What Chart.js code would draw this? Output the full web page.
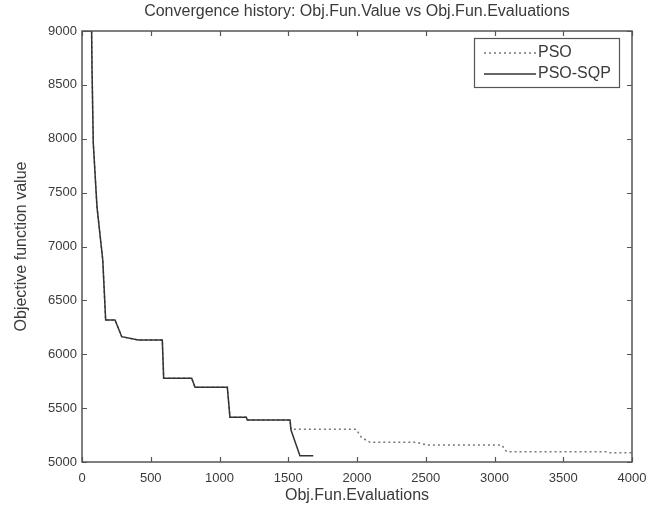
<!DOCTYPE html>
<html>
<head>
<meta charset="utf-8">
<script src="https://cdn.jsdelivr.net/npm/chart.js@4/dist/chart.umd.min.js"></script>
<style>
  html, body { margin: 0; padding: 0; background: #fff; }
  #wrap { width: 666px; height: 513px; }
</style>
</head>
<body>
<div id="wrap"><canvas id="c" width="666" height="513"></canvas></div>
<script>
// ---- data ----
const chartTitle = 'Convergence history: Obj.Fun.Value vs Obj.Fun.Evaluations';
const xTitle = 'Obj.Fun.Evaluations';
const yTitle = 'Objective function value';
const seriesNames = ['PSO', 'PSO-SQP'];

const psoX = [0, 70, 73, 82, 109, 151, 172, 240, 260, 289, 409, 584, 594, 798, 822, 1057, 1076, 1195, 1202, 1513, 1520, 1993, 2034, 2095, 2434, 2507, 3052, 3089, 3816, 3840, 4000];
const psoY = [9000, 9000, 8638, 7961, 7367, 6875, 6318, 6318, 6256, 6163, 6132, 6132, 5777, 5777, 5693, 5693, 5415, 5415, 5390, 5390, 5303, 5303, 5226, 5183, 5183, 5158, 5158, 5095, 5095, 5086, 5086];

const sqpX = [0, 70, 73, 82, 109, 151, 172, 240, 260, 289, 409, 584, 594, 798, 822, 1057, 1076, 1195, 1202, 1513, 1520, 1585, 1682];
const sqpY = [9000, 9000, 8638, 7961, 7367, 6875, 6318, 6318, 6256, 6163, 6132, 6132, 5777, 5777, 5693, 5693, 5415, 5415, 5390, 5390, 5297, 5058, 5058];

const xMin = 0, xMax = 4000, xStep = 500;
const yMin = 5000, yMax = 9000, yStep = 500;

const toPts = (xs, ys) => xs.map((x, i) => ({ x: x, y: ys[i] }));

Chart.defaults.font.family = '"Liberation Sans", Arial, sans-serif';
Chart.defaults.color = '#3a3a3a';

const axisColor = '#555';
const textColor = '#3a3a3a';

const boxAndTicks = {
  id: 'boxAndTicks',
  afterDatasetsDraw(chart) {
    const ctx = chart.ctx;
    const a = chart.chartArea;
    const xs = chart.scales.x, ys = chart.scales.y;
    ctx.save();
    ctx.strokeStyle = axisColor;
    ctx.lineWidth = 1.5;
    ctx.setLineDash([]);
    ctx.strokeRect(a.left, a.top, a.right - a.left, a.bottom - a.top);
    ctx.lineWidth = 1.2;
    const tl = 5;
    ctx.beginPath();
    xs.ticks.forEach(t => {
      const px = Math.round(xs.getPixelForValue(t.value)) + 0.5;
      ctx.moveTo(px, a.bottom); ctx.lineTo(px, a.bottom - tl);
      ctx.moveTo(px, a.top); ctx.lineTo(px, a.top + tl);
    });
    ys.ticks.forEach(t => {
      const py = Math.round(ys.getPixelForValue(t.value)) + 0.5;
      ctx.moveTo(a.left, py); ctx.lineTo(a.left + tl, py);
      ctx.moveTo(a.right, py); ctx.lineTo(a.right - tl, py);
    });
    ctx.stroke();

    // legend box
    const lx = 474, ly = 38, lw = 145, lh = 49;
    ctx.fillStyle = '#fff';
    ctx.fillRect(lx, ly, lw, lh);
    ctx.strokeStyle = axisColor;
    ctx.lineWidth = 1.2;
    ctx.strokeRect(lx + 0.5, ly + 0.5, lw, lh);
    const ds = chart.data.datasets;
    const rowsY = [53, 74];
    ds.forEach((d, i) => {
      const y = rowsY[i];
      ctx.beginPath();
      ctx.strokeStyle = d.borderColor;
      ctx.lineWidth = d.borderWidth;
      ctx.setLineDash(d.borderDash || []);
      ctx.moveTo(484, y); ctx.lineTo(536, y);
      ctx.stroke();
      ctx.setLineDash([]);
      ctx.fillStyle = textColor;
      ctx.font = '16px "Liberation Sans", Arial, sans-serif';
      ctx.textBaseline = 'middle';
      ctx.textAlign = 'left';
      ctx.fillText(d.label, 538, y);
    });
    ctx.restore();
  }
};

new Chart(document.getElementById('c'), {
  type: 'line',
  data: {
    datasets: [
      {
        label: seriesNames[0],
        data: toPts(psoX, psoY),
        borderColor: '#777',
        borderWidth: 1.5,
        borderDash: [2, 3],
        pointRadius: 0,
        tension: 0,
        fill: false,
        order: 2
      },
      {
        label: seriesNames[1],
        data: toPts(sqpX, sqpY),
        borderColor: '#333',
        borderWidth: 1.5,
        pointRadius: 0,
        tension: 0,
        fill: false,
        order: 1
      }
    ]
  },
  options: {
    responsive: false,
    animation: false,
    devicePixelRatio: 1,
    layout: { padding: { left: 0, right: 34, top: 0, bottom: 0 } },
    plugins: {
      legend: { display: false },
      title: { display: false },
      tooltip: { enabled: false }
    },
    scales: {
      x: {
        type: 'linear',
        position: 'bottom',
        min: xMin, max: xMax,
        grid: { display: false, drawTicks: false },
        border: { display: false },
        ticks: { stepSize: xStep, padding: 9, maxRotation: 0, font: { size: 13 }, color: textColor, callback: v => String(v) },
        title: { display: true, text: xTitle, font: { size: 16 }, color: textColor, padding: { top: 0, bottom: 8 } },
        afterFit: s => { s.height = 51; }
      },
      x2: {
        type: 'linear',
        position: 'top',
        min: xMin, max: xMax,
        grid: { display: false, drawTicks: false },
        border: { display: false },
        ticks: { display: false },
        title: { display: true, text: chartTitle, font: { size: 16 }, color: textColor, padding: { top: 2, bottom: 0 } },
        afterFit: s => { s.height = 31; }
      },
      y: {
        type: 'linear',
        min: yMin, max: yMax,
        grid: { display: false, drawTicks: false },
        border: { display: false },
        ticks: { stepSize: yStep, padding: 5, font: { size: 13 }, color: textColor, callback: v => String(v) },
        title: { display: true, text: yTitle, font: { size: 16 }, color: textColor, padding: { top: 12, bottom: 0 } },
        afterFit: s => { s.width = 82; }
      }
    }
  },
  plugins: [boxAndTicks]
});
</script>
</body>
</html>
